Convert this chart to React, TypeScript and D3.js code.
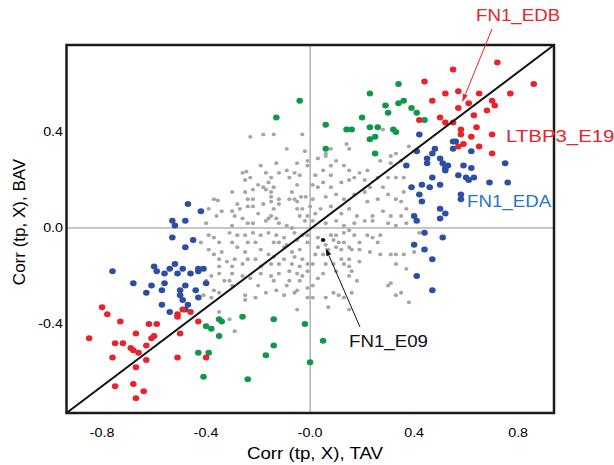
import React from 'react';
import * as d3 from 'd3';

type P = [number, number];

const redPoints: P[] = [
  [0.72,0.69],[0.55,0.66],[0.86,0.60],[0.44,0.61],[0.77,0.56],[0.52,0.56],[0.57,0.57],[0.65,0.56],
  [0.61,0.52],[0.47,0.53],[0.70,0.53],[0.71,0.51],[0.57,0.50],[0.68,0.49],[0.63,0.47],[0.50,0.46],
  [0.52,0.44],[0.55,0.44],[0.42,0.45],[0.64,0.42],[0.58,0.41],[0.58,0.39],[0.62,0.38],[0.70,0.39],
  [0.59,0.35],[0.57,0.34],[0.65,0.34],[0.70,0.31],
  [-0.80,-0.33],[-0.78,-0.36],[-0.73,-0.39],[-0.85,-0.46],[-0.62,-0.40],[-0.59,-0.40],[-0.67,-0.44],
  [-0.60,-0.45],[-0.61,-0.46],[-0.75,-0.48],[-0.72,-0.48],[-0.63,-0.49],[-0.69,-0.50],[-0.68,-0.51],
  [-0.66,-0.52],[-0.76,-0.54],[-0.63,-0.55],[-0.51,-0.54],[-0.67,-0.58],[-0.75,-0.66],[-0.68,-0.65],
  [-0.64,-0.68],[-0.67,-0.71],[-0.50,-0.44],[-0.51,-0.36],[-0.49,-0.34],[-0.51,-0.37],[-0.46,-0.35],
  [-0.43,-0.39],[-0.40,-0.54]
];

const greenPoints: P[] = [
  [0.34,0.60],[0.23,0.56],[0.29,0.51],[0.34,0.52],[0.36,0.53],[0.39,0.50],[0.30,0.48],[0.41,0.48],
  [0.44,0.45],[0.20,0.46],[0.06,0.43],[0.14,0.41],[0.16,0.41],[0.23,0.42],[0.26,0.42],[0.32,0.41],
  [0.33,0.40],[0.25,0.38],[0.23,0.37],[0.06,0.33],[0.25,0.31],[-0.04,0.53],[-0.13,0.46],
  [-0.26,-0.37],[-0.14,-0.38],[-0.02,-0.40],[-0.35,-0.38],[-0.34,-0.39],[-0.40,-0.41],[-0.38,-0.42],
  [-0.35,-0.45],[-0.14,-0.49],[-0.17,-0.53],[-0.43,-0.52],[-0.39,-0.52],[-0.41,-0.62],[-0.24,-0.63],
  [0.00,-0.56],[0.05,-0.47]
];

const bluePoints: P[] = [
  [0.42,0.39],[0.55,0.36],[0.56,0.36],[0.55,0.33],[0.48,0.33],[0.41,0.32],[0.62,0.32],[0.47,0.31],
  [0.45,0.29],[0.45,0.27],[0.50,0.29],[0.51,0.27],[0.37,0.26],[0.52,0.25],[0.53,0.26],[0.59,0.26],
  [0.62,0.25],[0.75,0.27],[0.47,0.21],[0.52,0.24],[0.57,0.22],[0.60,0.21],[0.61,0.20],[0.63,0.21],
  [0.69,0.19],[0.76,0.19],[0.43,0.18],[0.39,0.17],[0.46,0.17],[0.50,0.18],[0.42,0.14],[0.43,0.11],
  [0.58,0.14],[0.58,0.12],[0.40,0.05],[0.41,0.03],[0.50,0.08],[0.52,0.06],[0.50,0.04],
  [0.44,-0.02],[0.51,-0.04],[0.40,-0.07],[0.44,-0.09],[0.47,-0.13],[0.41,-0.20],[0.47,-0.26],
  [-0.47,0.10],[-0.42,0.07],[-0.53,0.03],[-0.48,0.03],[-0.52,0.01],[-0.53,-0.04],[-0.45,-0.05],
  [-0.48,-0.08],[-0.76,-0.18],[-0.60,-0.16],[-0.59,-0.18],[-0.54,-0.17],[-0.52,-0.15],[-0.49,-0.17],
  [-0.46,-0.19],[-0.56,-0.19],[-0.51,-0.19],[-0.43,-0.17],[-0.41,-0.17],[-0.43,-0.18],[-0.68,-0.23],
  [-0.61,-0.24],[-0.56,-0.23],[-0.48,-0.24],[-0.40,-0.23],[-0.57,-0.26],[-0.63,-0.27],[-0.50,-0.26],
  [-0.50,-0.28],[-0.44,-0.26],[-0.49,-0.30],[-0.43,-0.29],[-0.57,-0.32],[-0.47,-0.32],[-0.48,-0.34],
  [-0.54,-0.35]
];

const greyPoints: P[] = [
  // upper left of centre
  [-0.23,0.38],[-0.18,0.39],[-0.14,0.39],[-0.03,0.39],[-0.09,0.33],[-0.02,0.32],[-0.19,0.26],[-0.13,0.27],
  [-0.05,0.27],[-0.01,0.28],[-0.01,0.26],[-0.09,0.24],[-0.06,0.23],[-0.12,0.23],[-0.17,0.23],[-0.26,0.23],
  [-0.245,0.235],[-0.23,0.21],[-0.15,0.21],[-0.08,0.21],[-0.04,0.22],[-0.25,0.20],[-0.16,0.19],[-0.20,0.18],
  [-0.05,0.18],[-0.18,0.17],[-0.14,0.17],[-0.17,0.16],[-0.25,0.15],[-0.22,0.16],[-0.30,0.15],[-0.07,0.15],
  [-0.15,0.15],[-0.37,0.12],[-0.355,0.115],[-0.24,0.12],[-0.22,0.12],[-0.12,0.12],[-0.15,0.13],[-0.035,0.13],
  [-0.017,0.13],[-0.06,0.12],[-0.28,0.10],[-0.24,0.09],[-0.22,0.09],[-0.18,0.10],[-0.15,0.11],[-0.12,0.10],
  [-0.05,0.11],[-0.08,0.12],[-0.39,0.08],[-0.34,0.07],[-0.30,0.07],[-0.27,0.08],[-0.14,0.08],[-0.05,0.08],
  [-0.03,0.08],[0.00,0.09],[-0.36,0.05],[-0.29,0.05],[-0.26,0.04],[-0.20,0.06],[-0.15,0.05],[-0.13,0.04],
  [-0.04,0.05],[-0.40,0.02],[-0.30,0.01],[-0.24,0.02],[-0.22,0.02],[-0.17,0.03],[-0.12,0.02],[-0.09,0.01],
  [-0.07,0.00],[-0.02,0.03],[-0.16,0.04],[-0.01,0.05],
  // upper right of centre
  [0.28,0.41],[0.14,0.35],[0.15,0.33],[0.08,0.33],[0.06,0.31],[0.03,0.29],[0.06,0.30],[0.38,0.34],
  [0.33,0.31],[0.31,0.30],[0.10,0.28],[0.13,0.26],[0.15,0.24],[0.08,0.26],[0.08,0.22],[0.05,0.24],
  [0.02,0.22],[0.22,0.24],[0.19,0.23],[0.21,0.20],[0.17,0.21],[0.15,0.20],[0.31,0.27],[0.27,0.28],
  [0.35,0.28],[0.30,0.21],[0.26,0.21],[0.33,0.21],[0.36,0.21],[0.05,0.19],[0.12,0.19],[0.08,0.17],
  [0.03,0.17],[0.01,0.18],[0.23,0.17],[0.21,0.15],[0.28,0.17],[0.30,0.14],[0.36,0.15],[0.06,0.13],
  [0.10,0.14],[0.13,0.12],[0.17,0.14],[0.01,0.12],[0.26,0.12],[0.22,0.11],[0.33,0.12],[0.35,0.11],
  [0.37,0.08],[0.04,0.08],[0.08,0.09],[0.02,0.06],[0.12,0.06],[0.15,0.08],[0.18,0.05],[0.28,0.07],
  [0.24,0.05],[0.31,0.05],[0.35,0.05],[0.01,0.03],[0.06,0.02],[0.17,0.02],[0.21,0.03],[0.24,0.03],
  [0.30,0.02],[0.33,0.01],[0.37,0.02],[0.13,0.01],[0.10,0.03],
  // lower left of centre
  [-0.39,-0.03],[-0.37,-0.04],[-0.31,-0.02],[-0.28,-0.03],[-0.25,-0.03],[-0.22,-0.02],[-0.19,-0.03],[-0.16,-0.02],
  [-0.13,-0.03],[-0.10,-0.04],[-0.06,-0.02],[-0.03,-0.03],[-0.01,-0.03],[-0.42,-0.06],[-0.35,-0.06],[-0.30,-0.06],
  [-0.24,-0.06],[-0.21,-0.06],[-0.14,-0.06],[-0.12,-0.06],[-0.09,-0.07],[-0.05,-0.05],[-0.01,-0.06],[-0.39,-0.09],
  [-0.37,-0.11],[-0.34,-0.10],[-0.28,-0.08],[-0.25,-0.10],[-0.19,-0.09],[-0.16,-0.11],[-0.10,-0.08],[-0.07,-0.10],
  [-0.04,-0.09],[-0.35,-0.13],[-0.32,-0.14],[-0.29,-0.13],[-0.24,-0.13],[-0.21,-0.13],[-0.14,-0.12],[-0.10,-0.13],
  [-0.06,-0.12],[0.02,-0.11],[-0.03,-0.13],[-0.35,-0.16],[-0.30,-0.16],[-0.26,-0.15],[-0.19,-0.16],[-0.15,-0.15],
  [-0.12,-0.15],[-0.07,-0.15],[-0.04,-0.16],[-0.01,-0.15],[-0.38,-0.20],[-0.35,-0.19],[-0.30,-0.19],[-0.26,-0.20],
  [-0.19,-0.19],[-0.15,-0.20],[-0.12,-0.19],[-0.08,-0.18],[-0.05,-0.19],[-0.03,-0.20],[-0.01,-0.18],[-0.40,-0.22],
  [-0.33,-0.22],[-0.31,-0.22],[-0.23,-0.21],[-0.14,-0.22],[-0.08,-0.22],[-0.04,-0.22],[-0.37,-0.26],[-0.30,-0.24],
  [-0.20,-0.24],[-0.13,-0.26],[-0.09,-0.24],[-0.05,-0.26],[-0.01,-0.25],[-0.41,-0.28],[-0.35,-0.27],[-0.25,-0.28],
  [-0.21,-0.29],[-0.17,-0.27],[-0.10,-0.28],[-0.06,-0.27],[-0.01,-0.29],[-0.38,-0.29],[-0.25,-0.30],[-0.35,-0.35],
  [-0.31,-0.38],[-0.29,-0.43],[-0.05,-0.34],
  // lower right of centre
  [0.03,-0.04],[0.08,-0.03],[0.10,-0.03],[0.13,-0.02],[0.15,-0.01],[0.17,-0.03],[0.22,-0.03],[0.24,-0.04],
  [0.27,-0.03],[0.42,-0.02],[0.03,-0.08],[0.06,-0.07],[0.09,-0.05],[0.11,-0.06],[0.13,-0.06],[0.10,-0.08],
  [0.07,-0.09],[0.19,-0.06],[0.26,-0.06],[0.15,-0.08],[0.05,-0.11],[0.06,-0.15],[0.12,-0.09],[0.16,-0.09],
  [0.19,-0.09],[0.23,-0.10],[0.27,-0.11],[0.31,-0.11],[0.33,-0.11],[0.36,-0.11],[0.40,-0.10],[0.01,-0.15],
  [0.09,-0.15],[0.12,-0.13],[0.15,-0.13],[0.13,-0.15],[0.15,-0.16],[0.19,-0.14],[0.33,-0.15],[0.37,-0.17],
  [0.05,-0.19],[0.10,-0.18],[0.16,-0.18],[0.15,-0.20],[0.03,-0.21],[0.18,-0.22],[0.30,-0.24],[0.31,-0.23],
  [0.01,-0.24],[0.09,-0.27],[0.11,-0.28],[0.16,-0.27],[0.33,-0.28],[0.35,-0.27],[0.01,-0.29],[0.06,-0.29],
  [0.13,-0.29],[0.38,-0.31],[0.07,-0.33],[0.15,-0.34]
];

const blackPoints: P[] = [[0.05, -0.05]];

const xTicks = [-0.8, -0.4, 0, 0.4, 0.8];
const xTickLabels = ['-0.8', '-0.4', '-0.0', '0.4', '0.8'];
const yTicks = [-0.4, 0, 0.4];
const yTickLabels = ['-0.4', '0.0', '0.4'];
const xDomain: [number, number] = [-0.937, 0.938];
const yDomain: [number, number] = [-0.771, 0.7625];

const xTitle = 'Corr (tp, X), TAV';
const yTitle = 'Corr (tp, X), BAV';
const labelEDB = 'FN1_EDB';
const labelLTBP = 'LTBP3_E19';
const labelEDA = 'FN1_EDA';
const labelE09 = 'FN1_E09';
const edbPoint: P = [0.57, 0.50];
const e09Point: P = [0.05, -0.05];

const FONT = "'Liberation Sans', Arial, Helvetica, sans-serif";
const RED = '#e8232b';
const BLUE = '#2c4fa3';
const GREEN = '#11974a';
const GREY = '#a5a5a5';

function SText(props: { x: number; y: number; anchor?: string; size?: number; fill?: string; sx?: number; children: React.ReactNode }) {
  const { x, y, anchor = 'start', size = 17, fill = '#000', sx = 1.1, children } = props;
  return (
    <text transform={`translate(${x},${y}) scale(${sx},1)`} textAnchor={anchor as any} fontSize={size}
      fill={fill} fontFamily={FONT}>{children}</text>
  );
}

function Arrow(props: { x1: number; y1: number; x2: number; y2: number; color: string }) {
  const { x1, y1, x2, y2, color } = props;
  const a = Math.atan2(y2 - y1, x2 - x1);
  const L = 8, w = 2.6;
  const bx = x2 - L * Math.cos(a), by = y2 - L * Math.sin(a);
  const p1 = [bx - w * Math.sin(a), by + w * Math.cos(a)];
  const p2 = [bx + w * Math.sin(a), by - w * Math.cos(a)];
  return (
    <g>
      <line x1={x1} y1={y1} x2={bx} y2={by} stroke={color} strokeWidth={1} />
      <polygon points={`${x2},${y2} ${p1[0]},${p1[1]} ${p2[0]},${p2[1]}`} fill={color} />
    </g>
  );
}

export default function App() {
  const W = 614, H = 465;
  const x = d3.scaleLinear().domain(xDomain).range([66.5, 554]);
  const y = d3.scaleLinear().domain(yDomain).range([413, 45]);
  const [x0, x1] = x.range();
  const [y0, y1] = y.range();

  const dots = (pts: P[], color: string, rx: number, ry: number, key: string) =>
    pts.map((p, i) => (
      <ellipse key={key + i} cx={x(p[0])} cy={y(p[1])} rx={rx} ry={ry} fill={color} />
    ));

  const ex = x(edbPoint[0]), ey = y(edbPoint[1]);
  const gx = x(e09Point[0]), gy = y(e09Point[1]);

  return (
    <svg width={W} height={H} style={{ position: 'absolute', left: 0, top: 0, background: '#fff' }}>
      <rect x={0} y={0} width={W} height={H} fill="#fff" />
      <line x1={x(0)} x2={x(0)} y1={y1} y2={y0} stroke="#8c8c8c" strokeWidth={1} />
      <line x1={x0} x2={x1} y1={y(0)} y2={y(0)} stroke="#8c8c8c" strokeWidth={1} />

      {dots(greyPoints, GREY, 2.1, 1.9, 'g')}
      {dots(greenPoints, GREEN, 3.3, 3.0, 'gr')}
      {dots(bluePoints, BLUE, 3.3, 3.0, 'b')}
      {dots(redPoints, RED, 3.3, 3.0, 'r')}
      {dots(blackPoints, '#111', 2.3, 2.1, 'k')}

      <line x1={x(xDomain[0])} y1={y(yDomain[0])} x2={x(xDomain[1])} y2={y(yDomain[1])} stroke="#111" strokeWidth={2} />

      <rect x={x0} y={y1} width={x1 - x0} height={y0 - y1} fill="none" stroke="#1a1a1a" strokeWidth={2.5} />

      {xTicks.map((t, i) => (
        <SText key={'xt' + i} x={x(t)} y={437} anchor="middle" size={13}>{xTickLabels[i]}</SText>
      ))}
      {yTicks.map((t, i) => (
        <SText key={'yt' + i} x={63} y={y(t) + 4.5} anchor="end" size={13}>{yTickLabels[i]}</SText>
      ))}

      <SText x={315} y={459} anchor="middle" size={17}>{xTitle}</SText>
      <text transform={`translate(24.5,222) rotate(-90)`} textAnchor="middle" fontSize={17} fontFamily={FONT} fill="#000">{yTitle}</text>

      <Arrow x1={492} y1={29} x2={ex + 4} y2={ey - 6} color={RED} />
      <SText x={476} y={21} fill={RED}>{labelEDB}</SText>
      <SText x={506} y={142} fill={RED} sx={1.2}>{labelLTBP}</SText>
      <SText x={467} y={207} fill="#2a74c4">{labelEDA}</SText>
      <Arrow x1={360} y1={327} x2={gx + 2.5} y2={gy + 8} color="#111" />
      <SText x={349} y={347} fill="#111">{labelE09}</SText>
    </svg>
  );
}
